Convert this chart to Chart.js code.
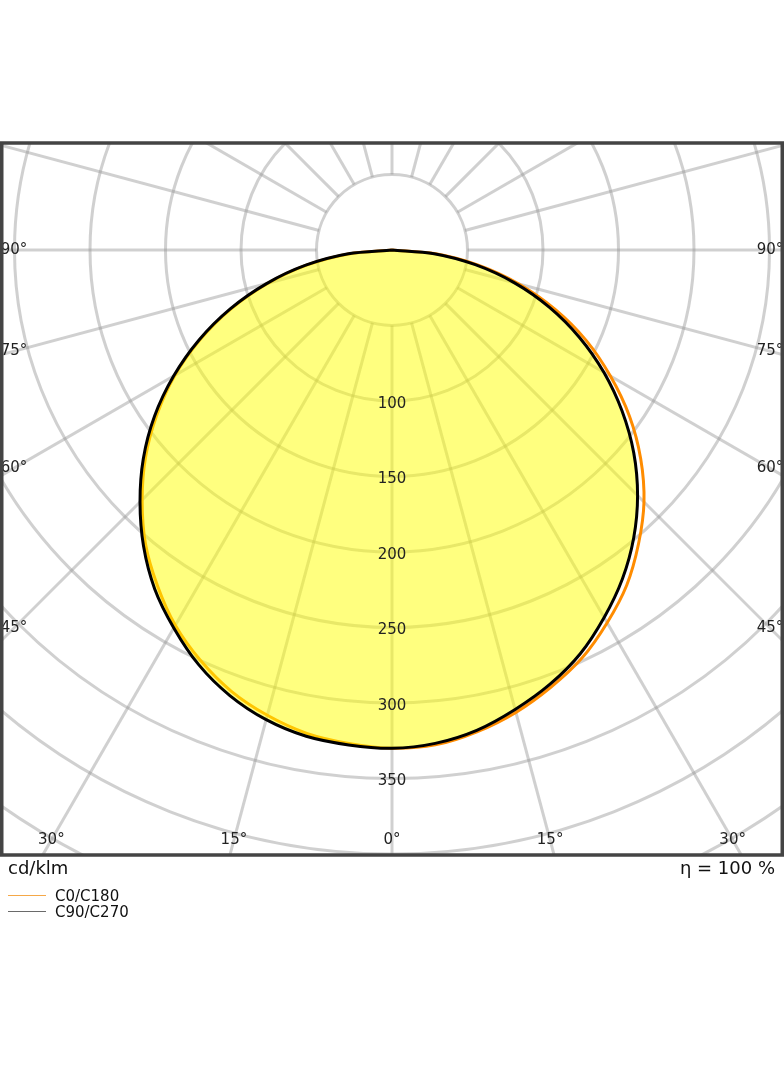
<!DOCTYPE html>
<html>
<head>
<meta charset="utf-8">
<title>LDC</title>
<script src="https://cdn.jsdelivr.net/npm/chart.js@4.4.1/dist/chart.umd.min.js"></script>
<style>
  body { margin: 0; background: #fff; font-family: "DejaVu Sans", sans-serif; }
  #wrap { position: relative; width: 784px; height: 1066px; }
  #ldc { position: absolute; left: 0; top: 0; }
  .txt { position: absolute; color: #111; white-space: nowrap; }
  .big { font-size: 18px; line-height: 20px; top: 858px; }
  .leg { font-size: 15px; line-height: 16px; left: 55px; }
  .swatch { position: absolute; left: 8px; width: 38px; height: 0; }
</style>
</head>
<body>
<div id="wrap">
  <canvas id="ldc" width="784" height="1066"></canvas>
  <div class="txt big" style="left:8px;">cd/klm</div>
  <div class="txt big" style="right:9px;">η = 100 %</div>
  <div class="swatch" style="top:895px; border-top:1px solid #f5a848;"></div>
  <div class="txt leg" style="top:888px;">C0/C180</div>
  <div class="swatch" style="top:911px; border-top:1px solid #6a6a6a;"></div>
  <div class="txt leg" style="top:904px;">C90/C270</div>
</div>
<script>
// gamma angles, 0 = straight down
const gammas = [0, 5, 10, 15, 20, 25, 30, 35, 40, 45, 50, 55, 60, 65, 70, 75, 80, 85, 90];

// cd/klm per C plane
const c0   = [330, 329, 324, 317, 308, 298, 285, 271, 254, 236, 215, 192, 167, 142, 115, 87, 58, 29, 0];
const c180 = [330, 328, 325, 319, 311, 300, 287, 271, 254, 234, 213, 190, 166, 140, 113, 85, 57, 28, 0];
const c90  = [330, 328, 323, 315, 306, 295, 281, 266, 249, 230, 209, 186, 162, 137, 111, 84, 56, 28, 0];
const c270 = [330, 329, 327, 322, 314, 303, 289, 274, 256, 236, 215, 192, 167, 141, 114, 86, 58, 29, 0];

const rings = [50, 100, 150, 200, 250, 300, 350, 400, 450, 500];
const ringLabels = [100, 150, 200, 250, 300, 350];
const spokes = [0, 15, 30, 45, 60, 75, 90, 105, 120, 135, 150, 165, 180, 195, 210, 225, 240, 255, 270, 285, 300, 315, 330, 345];
const angleLabels = [-90, -75, -60, -45, -30, -15, 0, 15, 30, 45, 60, 75, 90];

// layout
const W = 784, TOP = 143, BOTTOM = 855, CY = 250, PX = 1.51; // px per cd/klm
const GRID = 'rgba(150,150,150,0.45)';

function toXY(g, v, side) {
  const r = g * Math.PI / 180;
  return { x: side * v * Math.sin(r), y: -v * Math.cos(r) };
}

// left half from 90 down to 0, right half back up to 90
function plane(left, right) {
  const pts = [];
  for (let i = gammas.length - 1; i >= 0; i--) pts.push(toXY(gammas[i], left[i], -1));
  for (let i = 1; i < gammas.length; i++) pts.push(toXY(gammas[i], right[i], 1));
  return pts;
}

const polarGrid = {
  id: 'polarGrid',
  beforeDatasetsDraw(chart) {
    const { ctx, chartArea: a, scales: { x, y } } = chart;
    const cx = x.getPixelForValue(0), cy = y.getPixelForValue(0);
    const k = x.getPixelForValue(1) - cx;
    ctx.save();
    ctx.beginPath();
    ctx.rect(a.left, a.top, a.right - a.left, a.bottom - a.top);
    ctx.clip();
    ctx.strokeStyle = GRID;
    ctx.lineWidth = 3;
    rings.forEach(r => {
      ctx.beginPath();
      ctx.arc(cx, cy, r * k, 0, Math.PI * 2);
      ctx.stroke();
    });
    spokes.forEach(g => {
      const p1 = toXY(g, 50, 1), p2 = toXY(g, 700, 1);
      ctx.beginPath();
      ctx.moveTo(x.getPixelForValue(p1.x), y.getPixelForValue(p1.y));
      ctx.lineTo(x.getPixelForValue(p2.x), y.getPixelForValue(p2.y));
      ctx.stroke();
    });
    ctx.restore();
  },
  afterDatasetsDraw(chart) {
    const { ctx, chartArea: a, scales: { x, y } } = chart;
    const cx = x.getPixelForValue(0), cy = y.getPixelForValue(0);
    ctx.save();
    ctx.fillStyle = '#222';
    ctx.font = '15px "DejaVu Sans"';
    ctx.textAlign = 'center';
    ctx.textBaseline = 'middle';
    ringLabels.forEach(v => {
      ctx.fillText(String(v), cx, y.getPixelForValue(-v) + 3);
    });
    // angle labels sit on the spoke, just inside the frame
    const insetX = 14, insetY = 15;
    angleLabels.forEach(g => {
      const r = g * Math.PI / 180, s = Math.sin(r), c = Math.cos(r);
      let t = Infinity;
      if (Math.abs(s) > 1e-6) t = Math.min(t, ((a.right - a.left) / 2 - insetX) / Math.abs(s));
      if (c > 1e-6) t = Math.min(t, (a.bottom - insetY - cy) / c);
      ctx.fillText(Math.abs(g) + '°', cx + t * s, cy + t * c);
    });
    ctx.strokeStyle = '#444';
    ctx.lineWidth = 3.5;
    ctx.strokeRect(a.left + 1.75, a.top, a.right - a.left - 3.5, a.bottom - a.top);
    ctx.restore();
  }
};

new Chart(document.getElementById('ldc'), {
  type: 'scatter',
  data: {
    datasets: [
      {
        label: 'C0/C180',
        data: plane(c180, c0),
        showLine: true,
        borderColor: '#ff8c00',
        borderWidth: 3,
        pointRadius: 0,
        fill: false,
        tension: 0.3,
        order: 1
      },
      {
        label: 'C90/C270',
        data: plane(c270, c90),
        showLine: true,
        borderColor: '#000',
        borderWidth: 3,
        pointRadius: 0,
        fill: 'shape',
        backgroundColor: 'rgba(255,255,0,0.5)',
        tension: 0.3,
        order: 0
      }
    ]
  },
  options: {
    responsive: false,
    animation: false,
    layout: { padding: { top: TOP, bottom: 1066 - BOTTOM, left: 0, right: 0 } },
    scales: {
      x: { type: 'linear', display: false, min: -(W / 2) / PX, max: (W / 2) / PX },
      y: { type: 'linear', display: false, min: -(BOTTOM - CY) / PX, max: (CY - TOP) / PX }
    },
    plugins: { legend: { display: false }, tooltip: { enabled: false } }
  },
  plugins: [polarGrid]
});
</script>
</body>
</html>
